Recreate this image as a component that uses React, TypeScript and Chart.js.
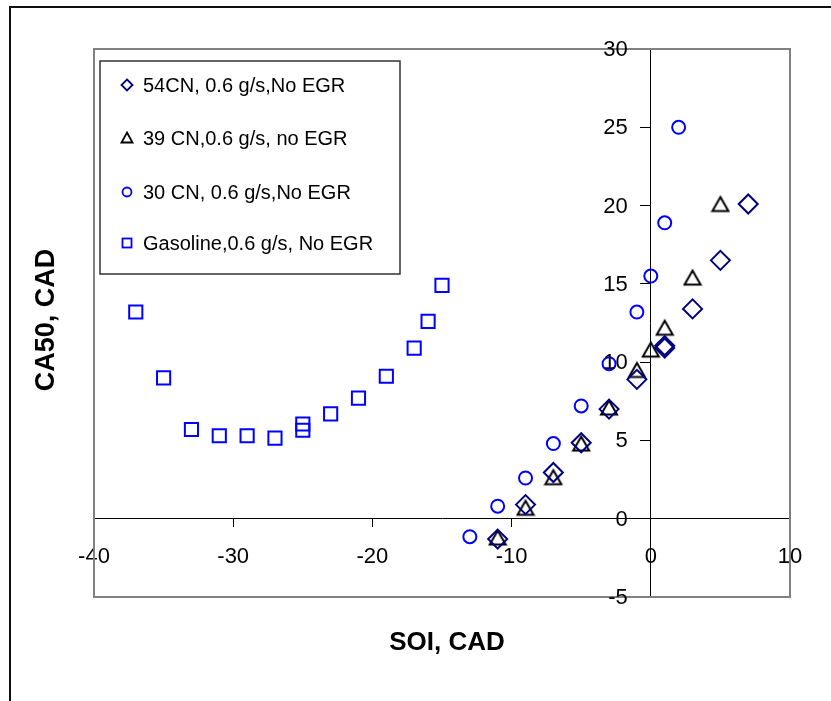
import React, { useEffect, useRef } from 'react';
import { Chart, registerables } from 'chart.js';

Chart.register(...registerables);

const FONT = '"Liberation Sans", Arial, sans-serif';

// Axis ranges / ticks
const X_MIN = -40;
const X_MAX = 10;
const X_STEP = 10;
const Y_MIN = -5;
const Y_MAX = 30;
const Y_STEP = 5;

const X_TITLE = 'SOI, CAD';
const Y_TITLE = 'CA50, CAD';

const SERIES_NAMES = [
  '54CN, 0.6 g/s,No EGR',
  '39 CN,0.6 g/s, no EGR',
  '30 CN, 0.6 g/s,No EGR',
  'Gasoline,0.6 g/s, No EGR',
];

// 54CN
const cn54X = [-11, -9, -7, -5, -3, -1, 1, 1, 3, 5, 7];
const cn54Y = [-1.3, 0.9, 2.95, 4.85, 7.0, 8.9, 10.9, 11.05, 13.4, 16.5, 20.1];
// 39 CN
const cn39X = [-11, -9, -7, -5, -3, -1, 0, 1, 3, 5];
const cn39Y = [-1.2, 0.7, 2.65, 4.8, 7.1, 9.5, 10.8, 12.2, 15.4, 20.1];
// 30 CN
const cn30X = [-13, -11, -9, -7, -5, -3, -1, 0, 1, 2];
const cn30Y = [-1.15, 0.8, 2.6, 4.8, 7.2, 9.9, 13.2, 15.5, 18.9, 25.0];
// Gasoline
const gasX = [-37, -35, -33, -31, -29, -27, -25, -25, -23, -21, -19, -17, -16, -15];
const gasY = [13.2, 9.0, 5.7, 5.3, 5.3, 5.15, 6.05, 5.65, 6.7, 7.7, 9.1, 10.9, 12.6, 14.9];

const NAVY = '#000080';
const BLUE = '#0000FF';
const BLACK = '#000000';

function toPoints(xs: number[], ys: number[]) {
  return xs.map((x, i) => ({ x, y: ys[i] }));
}

function makeTriangle(color: string) {
  const c = document.createElement('canvas');
  c.width = 20;
  c.height = 19;
  const ctx = c.getContext('2d')!;
  ctx.strokeStyle = color;
  ctx.lineWidth = 2;
  ctx.beginPath();
  ctx.moveTo(10, 2.5);
  ctx.lineTo(18, 16.5);
  ctx.lineTo(2, 16.5);
  ctx.closePath();
  ctx.stroke();
  return c;
}

const decorPlugin = {
  id: 'decor',
  afterDraw(chart: any) {
    const ctx = chart.ctx as CanvasRenderingContext2D;
    const ca = chart.chartArea;
    ctx.save();

    // outer chart border
    ctx.strokeStyle = '#111';
    ctx.lineWidth = 2;
    ctx.beginPath();
    ctx.moveTo(10, 710);
    ctx.lineTo(10, 7);
    ctx.lineTo(840, 7);
    ctx.stroke();

    // plot area border
    ctx.strokeStyle = '#808080';
    ctx.lineWidth = 2;
    ctx.strokeRect(ca.left, ca.top, ca.right - ca.left, ca.bottom - ca.top);

    // y tick labels, left of the y axis (which crosses at x = 0)
    const xs = chart.scales.x;
    const ys = chart.scales.y;
    const axisX = xs.getPixelForValue(0);
    ctx.fillStyle = '#000';
    ctx.font = `22px ${FONT}`;
    ctx.textAlign = 'right';
    ctx.textBaseline = 'middle';
    ys.ticks.forEach((t: any) => {
      ctx.fillText(String(t.label), axisX - 23, ys.getPixelForValue(t.value) + 1);
    });

    // legend box
    const lx = 100, ly = 61, lw = 300, lh = 213;
    ctx.fillStyle = '#fff';
    ctx.fillRect(lx, ly, lw, lh);
    ctx.strokeStyle = '#333';
    ctx.lineWidth = 1.5;
    ctx.strokeRect(lx, ly, lw, lh);

    const rows = [85, 138, 192, 243];
    const mx = 127;
    ctx.lineWidth = 1.8;
    // diamond
    ctx.strokeStyle = NAVY;
    ctx.beginPath();
    ctx.moveTo(mx, rows[0] - 5.5);
    ctx.lineTo(mx + 5.5, rows[0]);
    ctx.lineTo(mx, rows[0] + 5.5);
    ctx.lineTo(mx - 5.5, rows[0]);
    ctx.closePath();
    ctx.stroke();
    // triangle
    ctx.strokeStyle = BLACK;
    ctx.beginPath();
    ctx.moveTo(mx, rows[1] - 5.5);
    ctx.lineTo(mx + 5.5, rows[1] + 4.5);
    ctx.lineTo(mx - 5.5, rows[1] + 4.5);
    ctx.closePath();
    ctx.stroke();
    // circle
    ctx.strokeStyle = BLUE;
    ctx.beginPath();
    ctx.arc(mx, rows[2], 4.5, 0, Math.PI * 2);
    ctx.stroke();
    // square
    ctx.strokeRect(mx - 4.5, rows[3] - 4.5, 9, 9);

    ctx.fillStyle = '#000';
    ctx.font = `20px ${FONT}`;
    ctx.textAlign = 'left';
    ctx.textBaseline = 'middle';
    SERIES_NAMES.forEach((name, i) => ctx.fillText(name, 143, rows[i] + 1));

    // axis titles
    ctx.font = `bold 26px ${FONT}`;
    ctx.textAlign = 'center';
    ctx.textBaseline = 'middle';
    ctx.fillText(X_TITLE, 447, 643);

    ctx.save();
    ctx.translate(47, 320);
    ctx.rotate(-Math.PI / 2);
    ctx.font = `bold 27px ${FONT}`;
    ctx.fillText(Y_TITLE, 0, 0);
    ctx.restore();

    ctx.restore();
  },
};

export default function App() {
  const ref = useRef<HTMLCanvasElement | null>(null);

  useEffect(() => {
    if (!ref.current) return;
    const tri = makeTriangle(BLACK);
    const chart = new Chart(ref.current, {
      type: 'scatter',
      data: {
        datasets: [
          {
            label: SERIES_NAMES[0],
            data: toPoints(cn54X, cn54Y),
            pointStyle: 'rectRot',
            pointRadius: 9.5,
            borderColor: NAVY,
            backgroundColor: 'rgba(0,0,0,0)',
            borderWidth: 2,
          },
          {
            label: SERIES_NAMES[1],
            data: toPoints(cn39X, cn39Y),
            pointStyle: tri as any,
            pointRadius: 9,
            borderColor: BLACK,
            backgroundColor: 'rgba(0,0,0,0)',
            borderWidth: 2,
          },
          {
            label: SERIES_NAMES[2],
            data: toPoints(cn30X, cn30Y),
            pointStyle: 'circle',
            pointRadius: 6.5,
            borderColor: BLUE,
            backgroundColor: 'rgba(0,0,0,0)',
            borderWidth: 2,
          },
          {
            label: SERIES_NAMES[3],
            data: toPoints(gasX, gasY),
            pointStyle: 'rect',
            pointRadius: 9.3,
            borderColor: BLUE,
            backgroundColor: 'rgba(0,0,0,0)',
            borderWidth: 2,
          },
        ],
      },
      options: {
        responsive: false,
        animation: false,
        events: [],
        layout: { padding: { left: 94, top: 49, right: 41, bottom: 104 } },
        plugins: {
          legend: { display: false },
          tooltip: { enabled: false },
          title: { display: false },
        },
        scales: {
          x: {
            type: 'linear',
            min: X_MIN,
            max: X_MAX,
            position: { y: 0 } as any,
            afterFit: (s: any) => {
              s.height = 0;
            },
            ticks: {
              stepSize: X_STEP,
              color: '#000',
              font: { size: 22, family: FONT },
              padding: 17,
              maxRotation: 0,
              autoSkip: false,
            },
            grid: {
              drawOnChartArea: false,
              drawTicks: true,
              tickLength: 8,
              color: '#000',
              lineWidth: 1,
            },
            border: { display: true, color: '#000', width: 1 },
          },
          y: {
            type: 'linear',
            min: Y_MIN,
            max: Y_MAX,
            position: { x: 0 } as any,
            afterFit: (s: any) => {
              s.width = 0;
            },
            ticks: {
              stepSize: Y_STEP,
              display: false,
              autoSkip: false,
            },
            grid: {
              drawOnChartArea: false,
              drawTicks: true,
              tickLength: 10,
              color: '#000',
              lineWidth: 1,
            },
            border: { display: true, color: '#000', width: 1 },
          },
        },
      },
      plugins: [decorPlugin],
    });
    return () => chart.destroy();
  }, []);

  return (
    <div style={{ position: 'fixed', left: 0, top: 0, width: 831, height: 701, background: '#fff' }}>
      <canvas ref={ref} width={831} height={701} style={{ display: 'block' }} />
    </div>
  );
}
